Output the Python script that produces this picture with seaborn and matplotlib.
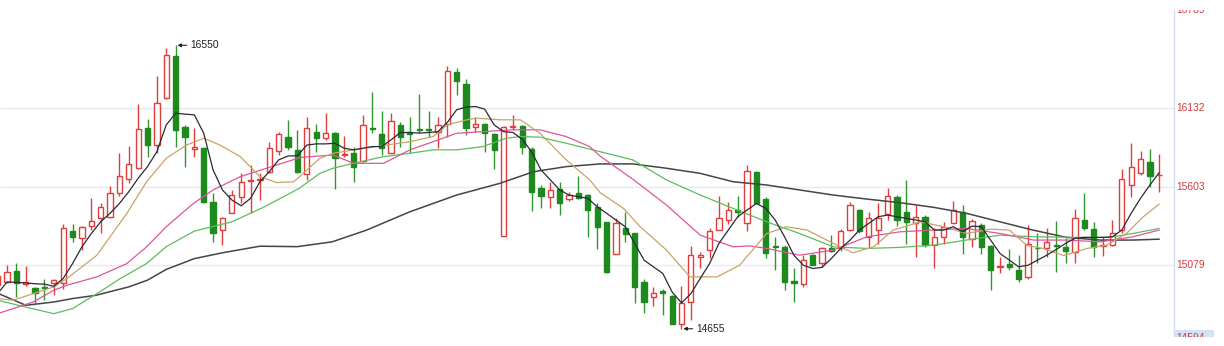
import numpy as np
import matplotlib
matplotlib.use("Agg")
import matplotlib.pyplot as plt
import seaborn as sns
from matplotlib.patches import Rectangle

# ---------------- data ----------------
opens = [14950, 14969, 15042, 14955, 14926, 14937, 14958, 14958, 15308, 15263,
         15341, 15393, 15404, 15565, 15654, 15732, 16000, 15884, 16197, 16476,
         16007, 15860, 15862, 15504, 15315, 15426, 15534, 15645, 15648, 15705,
         15844, 15936, 15851, 15688, 15973, 15929, 15967, 15815, 15833, 15779,
         15998, 15956, 15828, 16018, 15973, 15992, 15988, 15973, 16023, 16369,
         16293, 16003, 16025, 15956, 15274, 16005, 16012, 15857, 15594, 15538,
         15590, 15522, 15565, 15549, 15466, 15370, 15154, 15330, 15292, 14969,
         14868, 14905, 14873, 14685, 14836, 15132, 15181, 15315, 15382, 15449,
         15364, 15706, 15520, 15210, 15199, 14973, 14953, 15147, 15092, 15196,
         15192, 15315, 15449, 15266, 15315, 15420, 15535, 15435, 15360, 15404,
         15214, 15270, 15364, 15437, 15252, 15352, 15207, 15068, 15090, 15047,
         14998, 15196, 15192, 15216, 15199, 15165, 15382, 15319, 15208, 15214,
         15315, 15616, 15694, 15773, 15680]
highs = [15060, 15080, 15092, 15073, 14937, 14991, 14991, 15353, 15353, 15341,
         15527, 15494, 15609, 15828, 15877, 16159, 16056, 16342, 16530, 16550,
         16018, 15996, 15873, 15560, 15404, 15583, 15694, 15750, 15694, 15906,
         15973, 16052, 15985, 16074, 16025, 16096, 15973, 15944, 15873, 16085,
         16241, 16112, 16096, 16040, 16074, 16224, 16112, 16070, 16413, 16398,
         16324, 16070, 16030, 15962, 16012, 16085, 16018, 15873, 15616, 15638,
         15638, 15571, 15676, 15554, 15494, 15370, 15393, 15437, 15297, 14991,
         14931, 14924, 14880, 14940, 15207, 15169, 15330, 15542, 15504, 15542,
         15750, 15712, 15538, 15270, 15214, 15058, 15147, 15158, 15203, 15281,
         15319, 15504, 15454, 15437, 15494, 15594, 15549, 15650, 15482, 15415,
         15326, 15370, 15508, 15482, 15387, 15359, 15214, 15136, 15185, 15147,
         15348, 15292, 15330, 15375, 15259, 15454, 15560, 15366, 15270, 15382,
         15721, 15895, 15846, 15857, 15822]
lows = [14880, 14960, 14868, 14940, 14824, 14846, 14879, 14924, 15236, 15181,
        15315, 15293, 15393, 15542, 15631, 15721, 15806, 15828, 16190, 15873,
        15739, 15806, 15496, 15236, 15214, 15426, 15494, 15426, 15516, 15694,
        15817, 15851, 15694, 15650, 15839, 15918, 15587, 15806, 15638, 15772,
        15967, 15817, 15828, 15873, 15833, 15962, 15940, 15862, 15940, 16219,
        15951, 15973, 15839, 15721, 15274, 15985, 15824, 15444, 15460, 15460,
        15415, 15511, 15520, 15270, 15185, 15029, 15154, 15236, 14824, 14761,
        14806, 14745, 14685, 14655, 14712, 15058, 15125, 15315, 15355, 15404,
        15310, 15490, 15131, 15051, 14913, 14835, 14935, 15080, 15069, 15169,
        15176, 15310, 15297, 15192, 15225, 15382, 15340, 15221, 15132, 15203,
        15058, 15225, 15360, 15154, 15199, 15154, 14917, 15029, 15051, 14968,
        14991, 15092, 15136, 15036, 15092, 15092, 15315, 15132, 15140, 15207,
        15292, 15538, 15683, 15605, 15567]
closes = [15010, 15036, 14962, 14968, 14892, 14926, 14980, 15330, 15266, 15337,
          15377, 15466, 15565, 15676, 15755, 15989, 15884, 16163, 16487, 15985,
          15940, 15870, 15504, 15292, 15397, 15549, 15634, 15652, 15655, 15862,
          15956, 15873, 15705, 15996, 15929, 15967, 15795, 15822, 15739, 16018,
          15990, 15862, 16045, 15940, 15956, 15985, 15982, 16018, 16380, 16313,
          16000, 16025, 15962, 15851, 16007, 16012, 15873, 15567, 15542, 15583,
          15498, 15549, 15527, 15449, 15337, 15036, 15359, 15286, 14935, 14835,
          14897, 14897, 14690, 14825, 15147, 15147, 15308, 15397, 15449, 15434,
          15710, 15494, 15163, 15203, 14969, 14958, 15118, 15080, 15192, 15176,
          15308, 15482, 15310, 15393, 15393, 15540, 15380, 15370, 15404, 15214,
          15266, 15333, 15449, 15270, 15377, 15199, 15051, 15075, 15068, 14991,
          15219, 15192, 15236, 15210, 15176, 15397, 15326, 15203, 15216, 15292,
          15654, 15739, 15788, 15678, 15686]

ma5 = [14890, 14968, 14965, 14961, 14956, 14953, 14939, 14991, 15091, 15203,
       15292, 15370, 15427, 15493, 15571, 15661, 15739, 15839, 16018, 16096,
       16090, 16085, 15962, 15717, 15583, 15516, 15477, 15527, 15638, 15705,
       15784, 15810, 15812, 15883, 15891, 15891, 15895, 15862, 15851, 15862,
       15873, 15873, 15918, 15967, 15967, 15963, 15967, 15973, 16034, 16119,
       16137, 16141, 16123, 16018, 15973, 15967, 15922, 15838, 15717, 15650,
       15583, 15549, 15538, 15527, 15471, 15427, 15382, 15337, 15226, 15114,
       15069, 15025, 14901, 14828, 14890, 14991, 15091, 15226, 15315, 15404,
       15449, 15493, 15460, 15382, 15270, 15147, 15080, 15058, 15065, 15125,
       15192, 15248, 15315, 15360, 15404, 15415, 15404, 15393, 15382, 15370,
       15315, 15315, 15337, 15303, 15341, 15337, 15248, 15158, 15114, 15069,
       15080, 15114, 15147, 15185, 15226, 15259, 15266, 15266, 15266, 15270,
       15315, 15427, 15527, 15616, 15699]

ma10_idx = [0, 1.7, 3.8, 6, 7.4, 10.6, 13.8, 15.9, 18, 20.2, 22, 23.7, 25.9, 28,
            29.8, 31.6, 32.3, 34.4, 35.8, 38, 41.2, 44, 46.5, 48, 50.1, 51.1,
            53.6, 55.8, 57.9, 60.7, 63.2, 64.3, 66.8, 68.6, 71.4, 73.9, 76.8,
            79.2, 82.1, 84.2, 86.4, 89.2, 91.3, 93.5, 95.6, 98.5, 101, 103.4,
            106, 108, 109.9, 111.6, 113.8, 116.3, 118.4, 120.5, 122.3, 124]
ma10 = [14857, 14846, 14890, 14935, 14991, 15147, 15427, 15638, 15795, 15884,
        15929, 15884, 15806, 15672, 15632, 15638, 15676, 15795, 15828, 15851,
        15880, 15906, 15940, 16018, 16052, 16063, 16052, 16052, 15962, 15784,
        15650, 15566, 15460, 15337, 15181, 15002, 15002, 15080, 15292, 15337,
        15315, 15226, 15163, 15203, 15315, 15370, 15337, 15292, 15321, 15315,
        15211, 15192, 15144, 15192, 15214, 15292, 15404, 15489]

ma20_idx = [0, 3.8, 6, 7.4, 10.6, 13.8, 15.9, 18, 20.9, 23, 25.9, 28.7, 32.3,
            35.8, 38, 41.2, 44, 46.5, 49, 51.8, 55, 57.9, 60.7, 63.2, 64.3, 67.9,
            71.4, 75, 78.5, 80.3, 82.1, 85.6, 89.2, 92.8, 96.3, 99.9, 103.4, 107,
            110.6, 114.1, 117.7, 121.2, 124]
ma20 = [14756, 14834, 14913, 14946, 15002, 15091, 15203, 15337, 15493, 15583,
        15672, 15728, 15800, 15817, 15761, 15761, 15851, 15906, 15962, 15973,
        15985, 15985, 15940, 15873, 15810, 15650, 15482, 15281, 15203, 15209,
        15192, 15147, 15181, 15270, 15303, 15315, 15326, 15292, 15248, 15248,
        15236, 15270, 15315]

ma30_idx = [0, 3, 6, 8, 10.6, 13.1, 15.9, 18, 21, 25, 28.5, 32.2, 34.4, 35.8,
            38, 41.2, 44, 46.5, 49, 51.8, 54.3, 55.8, 57.9, 60.7, 64.3, 67.8,
            71.4, 75, 78.5, 82.1, 85.6, 89.2, 92.8, 96.3, 99.9, 103.4, 107,
            110.6, 115.9, 118.7, 121.2, 124]
ma30 = [14846, 14800, 14756, 14790, 14890, 14991, 15091, 15204, 15308, 15370,
        15471, 15594, 15694, 15728, 15761, 15806, 15828, 15851, 15851, 15873,
        15929, 15940, 15936, 15895, 15839, 15784, 15650, 15549, 15460, 15370,
        15292, 15203, 15192, 15199, 15214, 15248, 15281, 15270, 15266, 15266,
        15292, 15326]

ma60_idx = [0, 3, 6, 8, 10.5, 14, 16, 18, 21, 24, 28, 32, 35.7, 39.4, 44, 49,
            53.6, 57.2, 60.7, 64.3, 67.8, 71.4, 75, 78.5, 82.1, 85.6, 89.2, 92.8,
            96.3, 99.9, 103.4, 107, 110.5, 114.1, 117.7, 121.2, 124]
ma60 = [14893, 14812, 14834, 14857, 14879, 14935, 14980, 15052, 15124, 15163,
        15207, 15204, 15236, 15315, 15437, 15549, 15627, 15705, 15739, 15757,
        15757, 15728, 15694, 15638, 15616, 15583, 15549, 15522, 15498, 15467,
        15427, 15370, 15315, 15266, 15248, 15248, 15254]

tick_values = [14594, 15079, 15603, 16132, 16789]
tick_labels = ["14594", "15079", "15603", "16132", "16789"]
grid_values = [15079, 15603, 16132]
high_mark = (19, 16550, "16550")
low_mark = (73, 14655, "14655")

# ---------------- styling ----------------
sns.set_theme(style="white")
plt.rcParams["font.family"] = ["Liberation Sans", "DejaVu Sans"]

RED = "#e23d3d"
GREEN = "#1c8a1c"
WICK_GREEN = "#2f962f"

W, H = 1224, 346
fig = plt.figure(figsize=(W / 100, H / 100), dpi=100)
fig.patch.set_facecolor("white")
top_px, bot_px = 10, 337
ax = fig.add_axes([0, (H - bot_px) / H, 1, (bot_px - top_px) / H])
ax.set_facecolor("white")

step, x0px = 9.368, -2.37
def px2i(px):
    return (px - x0px) / step

ax.set_xlim(px2i(0), px2i(W))
ax.set_ylim(14600, 16786)
for s in ax.spines.values():
    s.set_visible(False)
ax.set_xticks([])
ax.set_yticks([])
ax.grid(False)

axis_x = px2i(1174)
# grid lines
ax.hlines(grid_values, px2i(0), axis_x, colors="#e9e9f1", lw=1.0, zorder=0)
ax.axvline(axis_x, color="#d6dcea", lw=1.0, zorder=1)

# candles
o = np.array(opens, float); h = np.array(highs, float)
l = np.array(lows, float); c = np.array(closes, float)
idx = np.arange(len(o))
up = c >= o
wick_cols = np.where(up, RED, WICK_GREEN)
ax.vlines(idx, l, h, colors=wick_cols, lw=1.0, zorder=2)
bottom = np.minimum(o, c)
height = np.maximum(np.abs(c - o), 2.0)
ax.bar(idx[up], height[up], bottom=bottom[up], width=0.56, facecolor="white",
       edgecolor=RED, linewidth=1.0, zorder=3)
ax.bar(idx[~up], height[~up], bottom=bottom[~up], width=0.56, facecolor=GREEN,
       edgecolor=GREEN, linewidth=1.0, zorder=3)

# moving averages
line_specs = [
    (ma60_idx, ma60, "#454545", 1.1),
    (ma30_idx, ma30, "#5cbd5c", 0.9),
    (ma20_idx, ma20, "#e0559a", 0.9),
    (ma10_idx, ma10, "#c9a468", 0.9),
    (list(idx), ma5, "#2a2a38", 0.9),
]
for xs, ys, col, lw in line_specs:
    sns.lineplot(x=xs, y=ys, ax=ax, color=col, linewidth=lw, estimator=None,
                 sort=False, zorder=4, legend=False)

# high / low annotations
for (i, v, txt) in (high_mark, low_mark):
    ax.annotate(txt, xy=(i + 0.2, v), xytext=(9, 0), textcoords="offset points",
                ha="left", va="center", fontsize=7.4, color="#222222",
                arrowprops=dict(arrowstyle="-|>", color="#222222", lw=0.8,
                                mutation_scale=5, shrinkA=0, shrinkB=0),
                zorder=6)

# right-hand price labels
ax.add_patch(Rectangle((axis_x, 14600), px2i(1214) - axis_x, 48,
                       facecolor="#d3e3f7", edgecolor="none", zorder=1))
for v, t in zip(tick_values, tick_labels):
    ax.text(px2i(1176), v, t, ha="left", va="center", fontsize=7.4,
            color="#d63a3a", clip_on=True, zorder=5)

fig.savefig("out.png", dpi=100, facecolor="white")
